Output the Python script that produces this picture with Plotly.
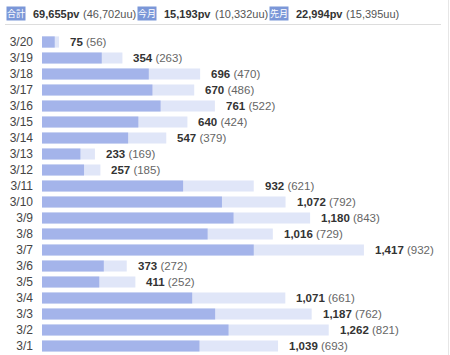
import plotly.graph_objects as go

dates = ["3/20","3/19","3/18","3/17","3/16","3/15","3/14","3/13","3/12","3/11",
         "3/10","3/9","3/8","3/7","3/6","3/5","3/4","3/3","3/2","3/1"]
pv = [75,354,696,670,761,640,547,233,257,932,1072,1180,1016,1417,373,411,1071,1187,1262,1039]
uu = [56,263,470,486,522,424,379,169,185,621,792,843,729,932,272,252,661,762,821,693]

header_labels = ["合計","今月","先月"]
header_pv = ["69,655pv","15,193pv","22,994pv"]
header_uu = ["(46,702uu)","(10,332uu)","(15,395uu)"]

W, H = 450, 355
ML, MR, MT, MB = 42, 3, 34, 1
PW = W - ML - MR
PH = H - MT - MB
XMAX = PW / 0.2272

def px(x):
    return (x - ML) / PW

def py(y):
    return 1 - (y - MT) / PH

FONT = "Liberation Sans, Arial, sans-serif"

fig = go.Figure()
fig.add_trace(go.Bar(y=dates, x=pv, orientation="h", marker=dict(color="#e0e6f8", line=dict(width=0)),
                     width=0.7, hoverinfo="skip"))
fig.add_trace(go.Bar(y=dates, x=uu, orientation="h", marker=dict(color="#a4b4ea", line=dict(width=0)),
                     width=0.7, hoverinfo="skip"))

annotations = []
for d, p, u in zip(dates, pv, uu):
    annotations.append(dict(x=p, y=d, xref="x", yref="y", xanchor="left", yanchor="middle",
                            xshift=9, showarrow=False,
                            text=f"<b>{p:,}</b> <span style='color:#666'>({u})</span>",
                            font=dict(family=FONT, size=11.5, color="#333")))

# header
box_x = [6, 137, 269]
pv_x = [31, 162, 294]
uu_x = [81, 213, 344]
for lab, bx, hp, hpx, hu, hux in zip(header_labels, box_x, header_pv, pv_x, header_uu, uu_x):
    annotations.append(dict(x=px(bx), y=py(13.5), xref="paper", yref="paper", xanchor="left", yanchor="middle",
                            showarrow=False, text=lab, bgcolor="#7b97d8", borderpad=0,
                            font=dict(family="Noto Sans CJK JP", size=9, color="white")))
    annotations.append(dict(x=px(hpx), y=py(13.5), xref="paper", yref="paper", xanchor="left", yanchor="middle",
                            showarrow=False, text=f"<b>{hp}</b>",
                            font=dict(family=FONT, size=11, color="#333")))
    annotations.append(dict(x=px(hux), y=py(13.5), xref="paper", yref="paper", xanchor="left", yanchor="middle",
                            showarrow=False, text=hu,
                            font=dict(family=FONT, size=11, color="#555")))

shapes = [
    dict(type="line", xref="paper", yref="paper", x0=px(5), x1=px(441), y0=py(24.5), y1=py(24.5),
         line=dict(color="#dddddd", width=1)),
    dict(type="line", xref="paper", yref="paper", x0=px(448.5), x1=px(448.5), y0=py(0), y1=py(355),
         line=dict(color="#e6e6e6", width=1)),
]

fig.update_layout(
    width=W, height=H, margin=dict(l=ML, r=MR, t=MT, b=MB),
    barmode="overlay", showlegend=False,
    plot_bgcolor="white", paper_bgcolor="white",
    annotations=annotations, shapes=shapes,
    xaxis=dict(range=[0, XMAX], visible=False, fixedrange=True),
    yaxis=dict(categoryorder="array", categoryarray=dates[::-1], range=[-0.5, 19.5],
               showgrid=False, zeroline=False, showline=False, ticks="",
               ticklabelstandoff=8,
               tickfont=dict(family=FONT, size=12, color="#444")),
)

fig.write_html("out.html", config={"displayModeBar": False, "staticPlot": True},
               post_script="document.body.style.margin='0';")
